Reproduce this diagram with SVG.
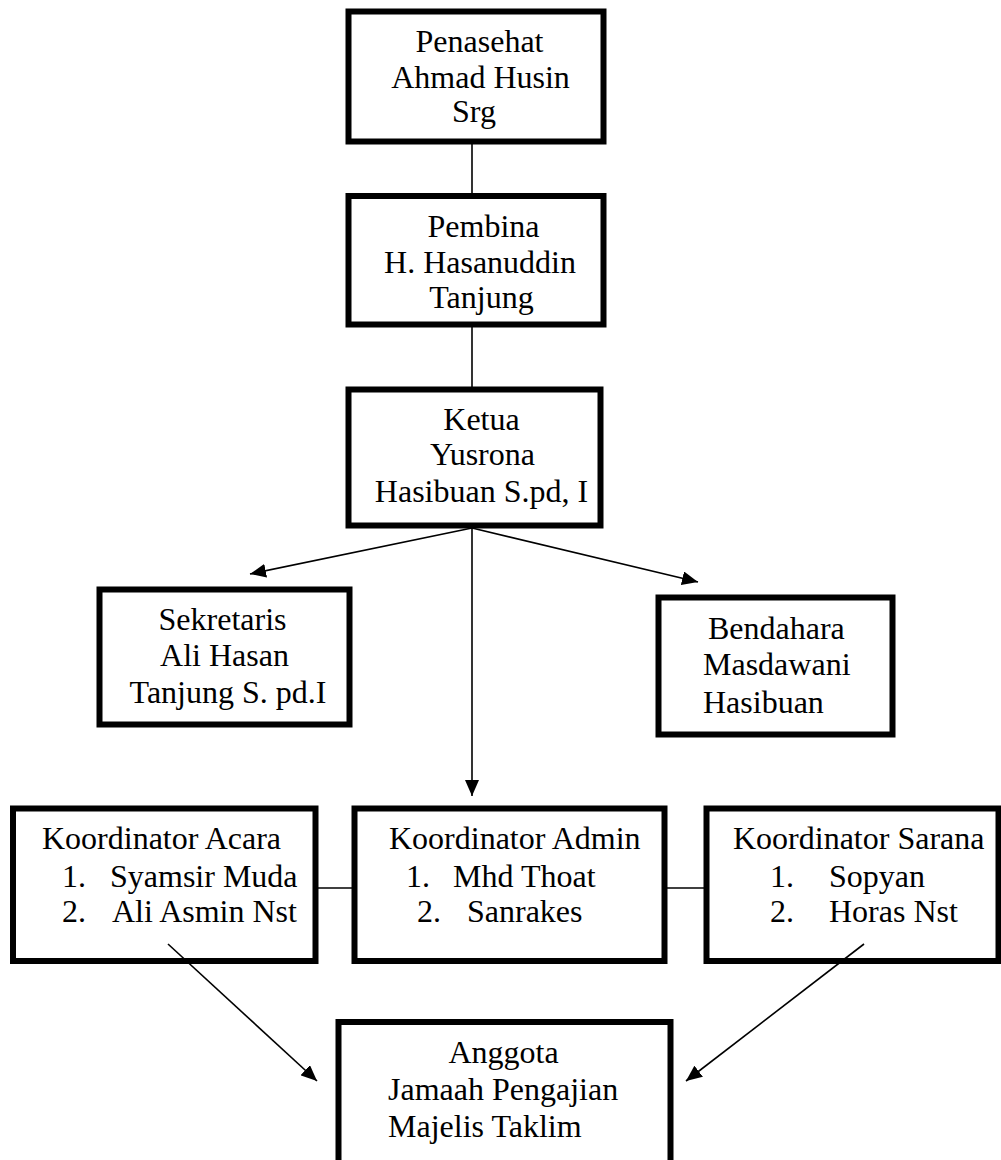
<svg xmlns="http://www.w3.org/2000/svg" width="1001" height="1160" viewBox="0 0 1001 1160">
<style>
  .box { fill: #fff; stroke: #000; stroke-width: 6; }
  .t { font-family: "Liberation Serif", "Times New Roman", serif; font-size: 32px; fill: #000; }
  .m { text-anchor: middle; }
  .ln { stroke: #000; stroke-width: 1.6; fill: none; }
</style>
<defs>
  <marker id="ah" markerUnits="userSpaceOnUse" markerWidth="18" markerHeight="14" refX="16" refY="7" orient="auto">
    <path d="M0,0 L16,7 L0,14 Z" fill="#000"/>
  </marker>
</defs>
<rect width="1001" height="1160" fill="#fff"/>
<g id="penasehat">
  <rect class="box" x="348.5" y="11.5" width="255" height="130"/>
  <text class="t m" x="479.5" y="52">Penasehat</text>
  <text class="t m" x="480.5" y="88">Ahmad Husin</text>
  <text class="t m" x="474" y="122">Srg</text>
</g>
<g id="pembina">
  <rect class="box" x="348.5" y="196" width="255" height="128.5"/>
  <text class="t m" x="483.5" y="237">Pembina</text>
  <text class="t m" x="480" y="273">H. Hasanuddin</text>
  <text class="t m" x="481.5" y="308">Tanjung</text>
</g>
<g id="ketua">
  <rect class="box" x="348.5" y="389.5" width="252" height="136"/>
  <text class="t m" x="481.5" y="430">Ketua</text>
  <text class="t m" x="482.5" y="465">Yusrona</text>
  <text class="t m" x="481.5" y="502">Hasibuan S.pd, I</text>
</g>
<g id="sekretaris">
  <rect class="box" x="99.5" y="589.5" width="250" height="135"/>
  <text class="t m" x="222.5" y="630">Sekretaris</text>
  <text class="t m" x="224.5" y="666">Ali Hasan</text>
  <text class="t m" x="228" y="703">Tanjung S. pd.I</text>
</g>
<g id="bendahara">
  <rect class="box" x="658.5" y="597.5" width="234" height="137"/>
  <text class="t" x="708" y="639">Bendahara</text>
  <text class="t" x="703" y="675">Masdawani</text>
  <text class="t" x="703" y="713">Hasibuan</text>
</g>
<g id="koordinator-acara">
  <rect class="box" x="13" y="808.5" width="302.5" height="152.5"/>
  <text class="t" x="42" y="849">Koordinator Acara</text>
  <text class="t" y="887"><tspan x="62">1.</tspan><tspan x="110">Syamsir Muda</tspan></text>
  <text class="t" y="922"><tspan x="62">2.</tspan><tspan x="112">Ali Asmin Nst</tspan></text>
</g>
<g id="koordinator-admin">
  <rect class="box" x="354.5" y="808.5" width="310" height="152.5"/>
  <text class="t" x="389" y="849">Koordinator Admin</text>
  <text class="t" y="887"><tspan x="406">1.</tspan><tspan x="453">Mhd Thoat</tspan></text>
  <text class="t" y="922"><tspan x="417">2.</tspan><tspan x="467">Sanrakes</tspan></text>
</g>
<g id="koordinator-sarana">
  <rect class="box" x="706.5" y="808.5" width="292" height="152.5"/>
  <text class="t" x="733" y="849">Koordinator Sarana</text>
  <text class="t" y="887"><tspan x="770">1.</tspan><tspan x="829">Sopyan</tspan></text>
  <text class="t" y="922"><tspan x="770">2.</tspan><tspan x="829">Horas Nst</tspan></text>
</g>
<g id="anggota">
  <rect class="box" x="338.5" y="1022" width="332" height="200"/>
  <text class="t m" x="503.5" y="1063">Anggota</text>
  <text class="t" x="388" y="1100">Jamaah Pengajian</text>
  <text class="t" x="388" y="1137">Majelis Taklim</text>
</g>
<g id="connectors">
  <line class="ln" x1="472" y1="144" x2="472" y2="194"/>
  <line class="ln" x1="472" y1="327" x2="472" y2="387"/>
  <line class="ln" x1="472" y1="528" x2="250" y2="574" marker-end="url(#ah)"/>
  <line class="ln" x1="472" y1="528" x2="698" y2="582" marker-end="url(#ah)"/>
  <line class="ln" x1="472" y1="528" x2="472" y2="796" marker-end="url(#ah)"/>
  <line class="ln" x1="318" y1="888" x2="352" y2="888"/>
  <line class="ln" x1="667" y1="888" x2="704" y2="888"/>
  <line class="ln" x1="168" y1="944" x2="317" y2="1081" marker-end="url(#ah)"/>
  <line class="ln" x1="864" y1="944" x2="686" y2="1081" marker-end="url(#ah)"/>
</g>
</svg>
